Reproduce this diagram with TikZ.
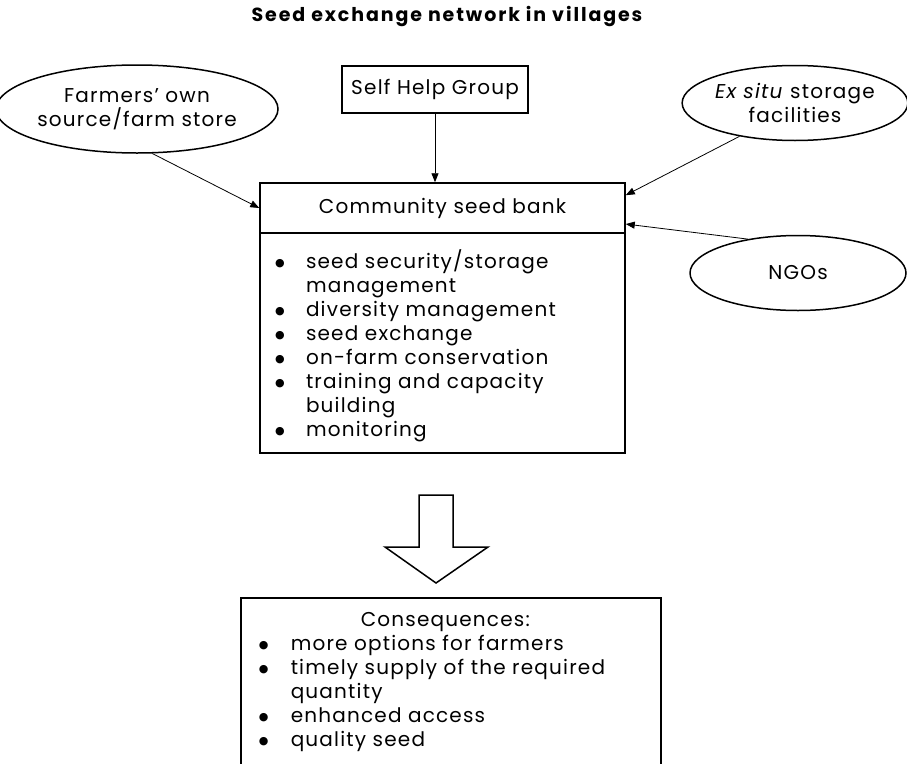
\documentclass[tikz,border=0pt]{standalone}
\usepackage{fontspec}
\setmainfont{Poppins}[LetterSpace=6]
\newfontfamily\symfont{DejaVu Sans}
\usetikzlibrary{shapes,arrows.meta,positioning,calc}
\newcommand{\bodysize}{\fontsize{20}{24}\selectfont}
\newcommand{\titlesize}{\fontsize{19}{22}\selectfont}
\newcommand{\bul}{\raisebox{2pt}{\symfont\fontsize{11}{11}\selectfont ●}}

\begin{document}
\begin{tikzpicture}[
  x=1pt, y=-1pt,
  every node/.style={font=\bodysize},
  src/.style={draw, ellipse, line width=1.5pt, inner sep=0pt, align=center},
  box/.style={draw, line width=1.5pt, inner sep=0pt, align=center},
  arr/.style={-{Triangle[length=9pt,width=7pt]}, line width=0.8pt},
  hollow/.style={draw, line width=1.5pt, line join=miter}
]
\useasboundingbox (0,0) rectangle (907,763);
\clip (0,0) rectangle (907,763);

\node[font=\titlesize\bfseries\addfontfeature{LetterSpace=10}] (title) at (447,17)
  {Seed exchange network in villages};

% sources feeding the seed bank
\node[src, minimum width=265pt, minimum height=88pt] (farmers) at (137,109)
  {Farmers' own\\source/farm store};
\node[box, minimum width=186pt, minimum height=47pt] (shg) at (435,89.5) {Self Help Group};
\node[src, minimum width=215pt, minimum height=75pt] (exsitu) at (795,103)
  {\textit{Ex situ} storage\\facilities};
\node[src, minimum width=216pt, minimum height=75pt] (ngo) at (798,273) {NGOs};

% the seed bank itself
\node[box, minimum width=365pt, minimum height=50pt] (bankhead) at (442.5,208)
  {Community seed bank};
\node[box, below=-1.5pt of bankhead] (bankbody) {\parbox[c][220pt][t]{365pt}{%
  \vspace*{17pt}\hspace*{15pt}%
  \begin{tabular}[t]{@{}p{31pt}@{}l@{}}
  \bul & seed security/storage\\
       & management\\
  \bul & diversity management\\
  \bul & seed exchange\\
  \bul & on-farm conservation\\
  \bul & training and capacity\\
       & building\\
  \bul & monitoring
  \end{tabular}}};

\draw[arr] (farmers.-71) -- (bankhead.west);
\draw[arr] (shg) -- (shg |- bankhead.north);
\draw[arr] (exsitu.211) -- (bankhead.4);
\draw[arr] (ngo.146) -- (bankhead.-5);

% outcome
\coordinate (flow) at (436,495);
\draw[hollow] ($(flow)+(-17,0)$) -- ++(0,52) -- ++(-34,0) -- ($(flow)+(0,88)$)
  -- ($(flow)+(52,52)$) -- ++(-35,0) -- ++(0,-52) -- cycle;

\node[box, anchor=north west] (cons) at (240,597) {\parbox[c][190pt][t]{420pt}{%
  \vspace*{12pt}\hspace*{18pt}%
  \begin{tabular}[t]{@{}p{32pt}@{}l@{}}
  \multicolumn{2}{@{}l@{}}{\hspace*{102pt}Consequences:}\\
  \bul & more options for farmers\\
  \bul & timely supply of the required\\
       & quantity\\
  \bul & enhanced access\\
  \bul & quality seed
  \end{tabular}}};
\end{tikzpicture}
\end{document}
